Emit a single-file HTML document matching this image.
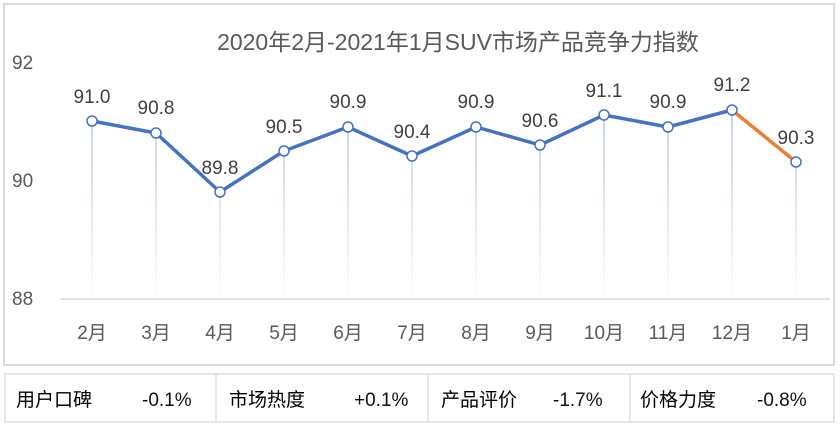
<!DOCTYPE html>
<html><head><meta charset="utf-8"><style>
body{margin:0;background:#fff;width:840px;height:428px;overflow:hidden;font-family:"Liberation Sans","Noto Sans CJK SC",sans-serif}
</style></head><body>
<svg width="840" height="428" xmlns="http://www.w3.org/2000/svg" font-family="Liberation Sans, Noto Sans CJK SC, sans-serif">
<defs>
<linearGradient id="g" gradientUnits="userSpaceOnUse" x1="0" y1="110" x2="0" y2="298">
<stop offset="0" stop-color="#c5d3ec"/><stop offset="1" stop-color="#c5d3ec" stop-opacity="0.05"/>
</linearGradient>
</defs>
<rect x="4" y="4" width="830" height="361" fill="#fff" stroke="#d9d9d9" stroke-width="2"/>
<text x="458" y="50" text-anchor="middle" font-size="23" fill="#595959">2020年2月-2021年1月SUV市场产品竞争力指数</text>
<g font-size="19" fill="#595959">
<text x="12" y="69">92</text><text x="12" y="187">90</text><text x="12" y="305">88</text>
</g>
<line x1="60" y1="299" x2="830" y2="299" stroke="#d9d9d9" stroke-width="1.5"/>
<g stroke="url(#g)" stroke-width="2">
<line x1="92" y1="121" x2="92" y2="298"/><line x1="156" y1="133" x2="156" y2="298"/>
<line x1="220" y1="192" x2="220" y2="298"/><line x1="284" y1="151" x2="284" y2="298"/>
<line x1="348" y1="127" x2="348" y2="298"/><line x1="412" y1="156" x2="412" y2="298"/>
<line x1="476" y1="127" x2="476" y2="298"/><line x1="540" y1="145" x2="540" y2="298"/>
<line x1="604" y1="115" x2="604" y2="298"/><line x1="668" y1="127" x2="668" y2="298"/>
<line x1="732" y1="110" x2="732" y2="298"/><line x1="796" y1="162" x2="796" y2="298"/>
</g>
<polyline points="92,121 156,133 220,192 284,151 348,127 412,156 476,127 540,145 604,115 668,127 732,110" fill="none" stroke="#4472c4" stroke-width="3.5" stroke-linejoin="round"/>
<line x1="732" y1="110" x2="796" y2="162" stroke="#ed7d31" stroke-width="3.5"/>
<g fill="#fff" stroke="#4472c4" stroke-width="1.5">
<circle cx="92" cy="121" r="5"/><circle cx="156" cy="133" r="5"/><circle cx="220" cy="192" r="5"/>
<circle cx="284" cy="151" r="5"/><circle cx="348" cy="127" r="5"/><circle cx="412" cy="156" r="5"/>
<circle cx="476" cy="127" r="5"/><circle cx="540" cy="145" r="5"/><circle cx="604" cy="115" r="5"/>
<circle cx="668" cy="127" r="5"/><circle cx="732" cy="110" r="5"/><circle cx="796" cy="162" r="5"/>
</g>
<g font-size="19" fill="#404040" text-anchor="middle">
<text x="92" y="103">91.0</text><text x="156" y="114">90.8</text><text x="220" y="174">89.8</text>
<text x="284" y="133">90.5</text><text x="348" y="108">90.9</text><text x="412" y="138">90.4</text>
<text x="476" y="108">90.9</text><text x="540" y="127">90.6</text><text x="604" y="97">91.1</text>
<text x="668" y="108">90.9</text><text x="732" y="91">91.2</text><text x="796" y="144">90.3</text>
</g>
<g font-size="19" fill="#595959" text-anchor="middle">
<text x="92" y="339">2月</text><text x="156" y="339">3月</text><text x="220" y="339">4月</text>
<text x="284" y="339">5月</text><text x="348" y="339">6月</text><text x="412" y="339">7月</text>
<text x="476" y="339">8月</text><text x="540" y="339">9月</text><text x="604" y="339">10月</text>
<text x="668" y="339">11月</text><text x="732" y="339">12月</text><text x="796" y="339">1月</text>
</g>
<rect x="5" y="374" width="829" height="48" fill="#fff" stroke="#d0d0d0" stroke-width="1"/>
<g stroke="#d0d0d0" stroke-width="1">
<line x1="216" y1="374" x2="216" y2="422"/><line x1="428" y1="374" x2="428" y2="422"/><line x1="630" y1="374" x2="630" y2="422"/>
</g>
<g font-size="19" fill="#000">
<text x="16" y="406">用户口碑</text><text x="142" y="406" fill="#111">-0.1%</text>
<text x="229" y="406">市场热度</text><text x="354" y="406" fill="#111">+0.1%</text>
<text x="441" y="406">产品评价</text><text x="553" y="406" fill="#111">-1.7%</text>
<text x="640" y="406">价格力度</text><text x="757" y="406" fill="#111">-0.8%</text>
</g>
</svg>
</body></html>
